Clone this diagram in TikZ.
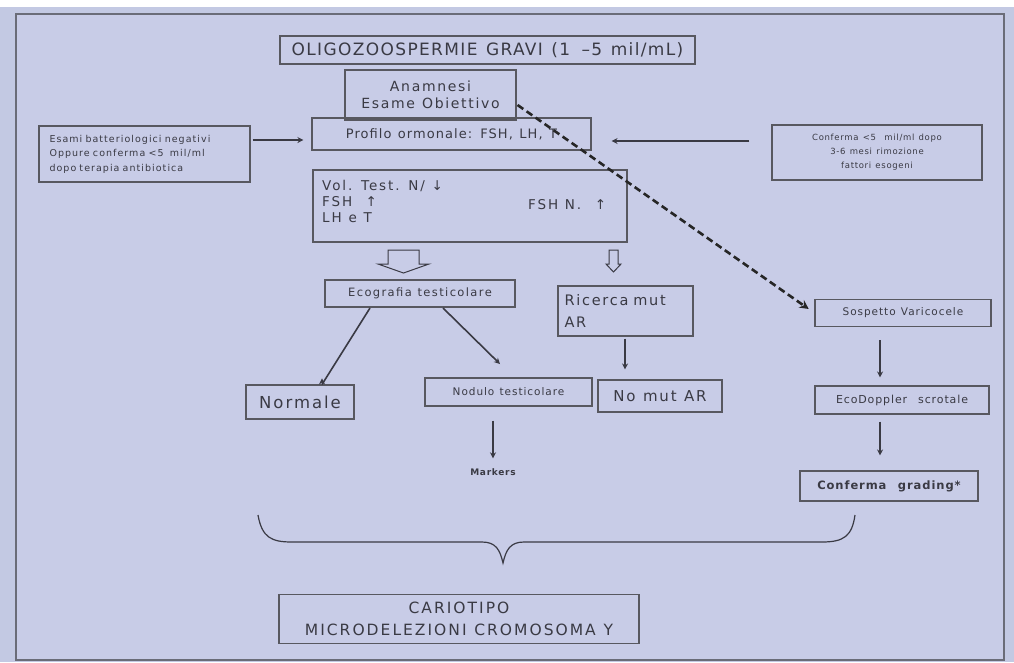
\documentclass[tikz,border=0pt]{standalone}
\usepackage{fontspec}
\setmainfont{DejaVu Sans}
\usetikzlibrary{arrows.meta}
\definecolor{bgout}{HTML}{C3C9E3}
\definecolor{bgin}{HTML}{C8CCE7}
\definecolor{ink}{HTML}{3A3A44}
\definecolor{frame}{HTML}{6A6C78}
\newcommand{\fs}[3]{\fontsize{#1}{#2}\selectfont\addfontfeature{LetterSpace=#3}\spaceskip=0.5em\relax}
\tikzset{
  boxs/.style={draw=ink!85, line width=1.1pt, inner sep=0pt, text=ink, align=center},
  txt/.style={inner sep=0pt, text=ink},
  arr/.style={draw=ink, line width=1.6pt, -{Stealth[length=6pt,width=6pt]}},
  dasharr/.style={draw=black!85, line width=2.6pt, dash pattern=on 7pt off 4pt, -{Stealth[length=9pt,width=9pt]}},
  hollow/.style={draw=ink, line width=1pt, fill=bgin}
}
\begin{document}
\begin{tikzpicture}[x=1pt,y=-1pt]
\useasboundingbox (0,0) rectangle (1014,662);
% backgrounds
\fill[bgout] (0,0) rectangle (1014,662);
\fill[white] (0,0) rectangle (1014,7);
\fill[bgin] (16,14) rectangle (1004,660);
\draw[frame, line width=1.6pt] (16,660) -- (16,14) -- (1004,14) -- (1004,660) -- cycle;

% boxes
\node[boxs, minimum width=415, minimum height=28, font=\fs{17}{19}{8}] (title) at (487.5,50) {OLIGOZOOSPERMIE GRAVI (1 \,–5 mil/mL)};
\node[boxs, minimum width=171, minimum height=50, font=\fs{14}{17}{12}] (anam) at (430.5,95) {Anamnesi\\Esame Obiettivo};
\node[boxs, minimum width=279, minimum height=32, font=\fs{13}{15}{8}] (prof) at (451.5,134) {Profilo ormonale: FSH, LH, T};
\node[boxs, minimum width=211, minimum height=56, text width=190, align=left, font=\fs{9.5}{14.5}{11}] (left) at (144.5,154) {Esami batteriologici negativi\\Oppure conferma {<}5 \ mil/ml\\dopo terapia antibiotica};
\node[boxs, minimum width=210, minimum height=55, font=\fs{8.5}{14}{8}] (right) at (877,152.5) {Conferma {<}5 \ mil/ml dopo\\3-6 mesi rimozione\\fattori esogeni};
\node[boxs, minimum width=314, minimum height=72] (vol) at (470,206) {};
\node[txt, anchor=north west, align=left, font=\fs{13.5}{16}{14}] (voltxt) at (322,180) {Vol. Test. N/ ↓\\FSH \ ↑\\LH e T};
\node[txt, anchor=west, font=\fs{13.5}{16}{14}] (fshn) at (528,205) {FSH N. \ ↑};

\node[boxs, minimum width=190, minimum height=27, font=\fs{11.5}{14}{12}] (eco) at (420,293.5) {Ecografia testicolare};
\node[boxs, minimum width=135, minimum height=50, text width=122, align=left, font=\fs{14.5}{22}{12}] (ric) at (625.5,311) {Ricerca mut\\AR};
\node[boxs, minimum width=108, minimum height=34, font=\fs{16.5}{18}{12}] (norm) at (300,402) {Normale};
\node[boxs, minimum width=167, minimum height=28, font=\fs{10.5}{12}{9}] (nod) at (508.5,392) {Nodulo testicolare};
\node[boxs, minimum width=124, minimum height=32, font=\fs{15}{17}{12}] (nomut) at (660,396) {No mut AR};
\node[txt, font=\fs{9}{11}{8}\bfseries] (mark) at (493,472) {Markers};

\node[boxs, minimum width=176, minimum height=27, font=\fs{10.5}{12}{9}] (sosp) at (903,313) {Sospetto Varicocele};
\node[boxs, minimum width=174, minimum height=28, font=\fs{11}{13}{8}] (doppler) at (902,400) {EcoDoppler \ scrotale};
\node[boxs, minimum width=178, minimum height=30, font=\fs{11.5}{13}{8}\bfseries] (conf) at (889,486) {Conferma \ grading*};

\node[boxs, minimum width=360, minimum height=49, font=\fs{15.5}{22}{13}] (cario) at (459,619) {CARIOTIPO\\MICRODELEZIONI CROMOSOMA Y};

% connectors
\draw[arr, shorten <=2pt, shorten >=8pt] (left.east |- 0,140) -- (prof.west |- 0,140);
\draw[arr, shorten <=22pt, shorten >=20pt] (right.west |- 0,141) -- (prof.east |- 0,141);
\draw[arr] (370,308) -- (norm.north -| 322,0) ++(0,-6);
\draw[arr] (443,308) -- (500,364);
\draw[arr, shorten <=2pt, shorten >=10pt] (ric.south -| 625,0) -- (nomut.north -| 625,0);
\draw[arr, shorten <=14pt, shorten >=10pt] (nod.south -| 493,0) -- (mark.north);
\draw[arr, shorten <=13pt, shorten >=8pt] (sosp.south -| 880,0) -- (doppler.north -| 880,0);
\draw[arr, shorten <=7pt, shorten >=15pt] (doppler.south -| 880,0) -- (conf.north -| 880,0);
\draw[dasharr, shorten >=7pt] ([xshift=1pt,yshift=-10pt]anam.east) -- (sosp.west);

% hollow block arrows
\draw[hollow] (388,250) -- (419,250) -- (419,264) -- (429,264) -- (403.5,273) -- (378,264) -- (388,264) -- cycle;
\draw[hollow] (609,250) -- (618,250) -- (618,264) -- (621,264) -- (613.5,272) -- (606,264) -- (609,264) -- cycle;

% brace
\draw[ink, line width=1.2pt] (258,515) .. controls (262,538) and (272,542) .. (292,542) -- (482,542) .. controls (496,542) and (500,550) .. (503,563) .. controls (506,550) and (510,542) .. (524,542) -- (822,542) .. controls (844,542) and (852,536) .. (855,515);
\end{tikzpicture}
\end{document}
